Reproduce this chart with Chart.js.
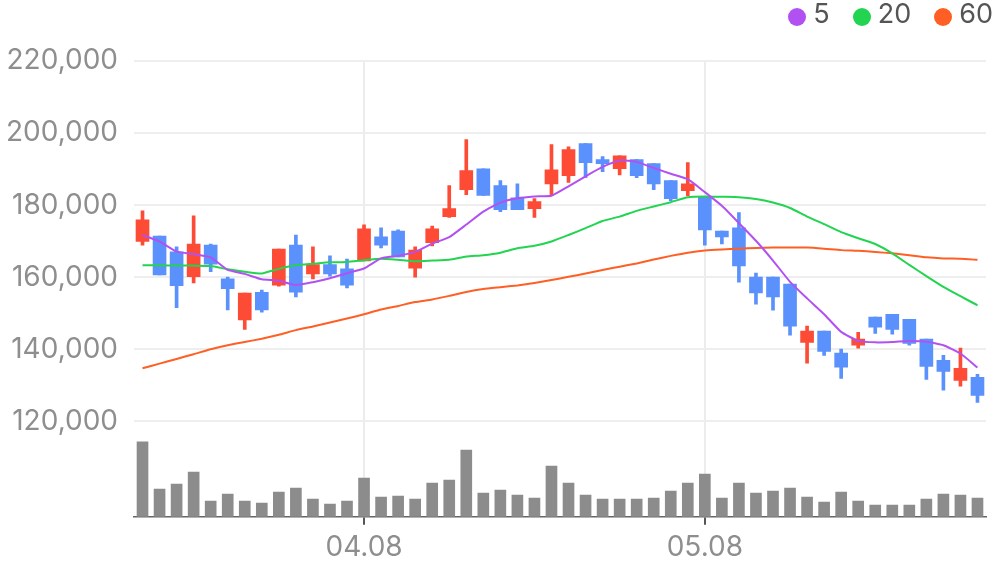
<!DOCTYPE html>
<html>
<head>
<meta charset="utf-8">
<title>Price chart</title>
<script src="https://cdn.jsdelivr.net/npm/chart.js@4.4.1/dist/chart.umd.min.js"></script>
<style>
    html, body {
        margin: 0;
        padding: 0;
        background: #ffffff;
    }

    #chart-wrapper {
        position: relative;
        width: 996px;
        height: 567px;
    }

    #ma-legend {
        position: absolute;
        top: 0;
        right: 3px;
        display: flex;
        font-family: "Inter", sans-serif;
        font-size: 27px;
        line-height: 28px;
        color: #555555;
    }

    .legend-item {
        display: flex;
        align-items: center;
        margin-left: 23px;
    }

    .legend-dot {
        width: 18px;
        height: 18px;
        border-radius: 50%;
        margin: 5px 7px 0 0;
    }
</style>
</head>
<body>
<div id="chart-wrapper">
    <canvas id="price-chart"></canvas>
    <div id="ma-legend"></div>
</div>
<script>
"use strict";

// trading days
const dates = [
    "03.20", "03.21", "03.22", "03.25", "03.26", "03.27", "03.28", "03.29", "04.01", "04.02",
    "04.03", "04.04", "04.05", "04.08", "04.09", "04.10", "04.11", "04.12", "04.15", "04.16",
    "04.17", "04.18", "04.19", "04.22", "04.23", "04.24", "04.25", "04.26", "04.29", "04.30",
    "05.02", "05.03", "05.07", "05.08", "05.09", "05.10", "05.13", "05.14", "05.16", "05.17",
    "05.20", "05.21", "05.22", "05.23", "05.24", "05.27", "05.28", "05.29", "05.30", "05.31"
];
const shownDates = ["04.08", "05.08"];

const opens = [
    169900, 171400, 167000, 160100, 168900, 159500, 148100, 155800, 157800, 168900,
    160900, 163500, 162300, 164500, 171200, 172800, 162500, 169600, 176800, 184300,
    190100, 185400, 182000, 179000, 185900, 188200, 197100, 192600, 190100, 192600,
    191500, 186800, 184000, 182300, 172800, 173700, 160000, 160000, 158100, 141900,
    145000, 138900, 141100, 148900, 149700, 148300, 142800, 136900, 131300, 132200
];
const highs = [
    178400, 171400, 168400, 177000, 169200, 160000, 155600, 156400, 167800, 171700,
    168400, 165900, 165000, 174500, 173700, 173100, 168400, 174200, 185400, 198200,
    190100, 186800, 185900, 181800, 196800, 196200, 197100, 193500, 193700, 192600,
    191500, 186800, 191800, 182300, 172800, 177900, 161100, 160000, 158100, 146400,
    145000, 140000, 144700, 148900, 149700, 148300, 142800, 138300, 140300, 133000
];
const lows = [
    168900, 160600, 151500, 158400, 161500, 150900, 145500, 150300, 157500, 154500,
    159500, 160300, 157000, 164500, 168100, 165600, 160000, 168700, 176600, 182900,
    182700, 178200, 178700, 176600, 182600, 186300, 187600, 189300, 188400, 187600,
    184300, 181200, 182600, 168900, 169200, 158600, 152500, 150800, 143900, 136100,
    138300, 131900, 140300, 144400, 144200, 141100, 131600, 128600, 129700, 125200
];
const closes = [
    175900, 160600, 157600, 169200, 163600, 156800, 155600, 150900, 167800, 155800,
    163500, 160900, 157800, 173400, 168900, 165600, 167500, 173400, 179000, 189600,
    182700, 178700, 178700, 181000, 189800, 195400, 191800, 191500, 193700, 188200,
    185900, 181800, 185900, 173100, 171200, 163100, 155600, 154500, 146400, 145000,
    139400, 135000, 142800, 146100, 145500, 141600, 135200, 133800, 134700, 127200
];
const volumes = [
    1494000, 554000, 654000, 894000, 314000, 454000, 314000, 274000, 494000, 574000,
    354000, 254000, 314000, 774000, 394000, 414000, 354000, 674000, 734000, 1334000,
    474000, 534000, 434000, 374000, 1014000, 674000, 434000, 354000, 354000, 354000,
    374000, 514000, 674000, 854000, 374000, 674000, 474000, 514000, 574000, 394000,
    294000, 494000, 314000, 234000, 234000, 234000, 354000, 454000, 434000, 374000
];

const ma5 = [
    171700, 169900, 167100, 166400, 165500, 162000, 160900, 159400, 159000, 157800,
    158600, 159700, 161100, 162400, 165200, 165900, 167000, 169300, 171100, 174600,
    178200, 180700, 181900, 182400, 182600, 185200, 188000, 190600, 192400, 192000,
    190300, 188700, 187200, 183600, 179800, 175000, 170100, 164600, 158700, 154100,
    149700, 144800, 142300, 141900, 142000, 142300, 142100, 141100, 138800, 134900
];
const ma20 = [
    163300, 163300, 163200, 163200, 163100, 162200, 161500, 161000, 162300, 163300,
    163700, 164100, 164200, 164700, 165100, 164800, 164400, 164600, 164800, 165700,
    166100, 166800, 168000, 168700, 169900, 171700, 173600, 175600, 176800, 178400,
    179600, 180800, 182200, 182400, 182300, 182200, 181700, 180700, 179200, 176800,
    174700, 172500, 170800, 169200, 166600, 163400, 160300, 157300, 154700, 152200
];
const ma60 = [
    134700, 136000, 137300, 138600, 140000, 141100, 142000, 142900, 144000, 145300,
    146300, 147400, 148500, 149700, 151000, 152000, 153100, 153800, 154800, 155900,
    156700, 157200, 157700, 158400, 159200, 160100, 161000, 162000, 162900, 163800,
    164900, 165900, 166800, 167400, 167700, 167900, 168100, 168200, 168200, 168200,
    167900, 167500, 167300, 167000, 166600, 166100, 165500, 165200, 165100, 164800
];

const priceTicks = [120000, 140000, 160000, 180000, 200000, 220000];

const UP_COLOR = "#fd4b35";
const DOWN_COLOR = "#5b91fc";
const FONT = "Inter";

function candleColor(ctx) {
    const i = ctx.dataIndex;
    return closes[i] >= opens[i] ? UP_COLOR : DOWN_COLOR;
}

function isShown(index) {
    return shownDates.includes(dates[index]);
}

// legend drawn as html next to the canvas, only for moving averages
const htmlLegend = {
    id: "htmlLegend",
    afterUpdate(chart) {
        const box = document.getElementById("ma-legend");
        box.innerHTML = "";
        chart.data.datasets.forEach(ds => {
            if (ds.type !== "line") {
                return;
            }
            const item = document.createElement("div");
            item.className = "legend-item";
            item.innerHTML = `<span class="legend-dot" style="background:${ds.borderColor}"></span><span>${ds.label}</span>`;
            box.appendChild(item);
        });
    }
};

document.addEventListener("DOMContentLoaded", function () {
    const ctx = document.getElementById("price-chart").getContext("2d");

    new Chart(ctx, {
        type: "bar",
        data: {
            labels: dates,
            datasets: [
                {
                    type: "line",
                    label: "5",
                    data: ma5,
                    borderColor: "#b251f1",
                    borderWidth: 2,
                    pointRadius: 0,
                    tension: 0.15,
                    yAxisID: "y",
                    order: 0
                },
                {
                    type: "line",
                    label: "20",
                    data: ma20,
                    borderColor: "#22d450",
                    borderWidth: 2,
                    pointRadius: 0,
                    tension: 0.15,
                    yAxisID: "y",
                    order: 0
                },
                {
                    type: "line",
                    label: "60",
                    data: ma60,
                    borderColor: "#ff5f25",
                    borderWidth: 2,
                    pointRadius: 0,
                    tension: 0.15,
                    yAxisID: "y",
                    order: 0
                },
                {
                    label: "body",
                    data: opens.map((o, i) => [o, closes[i]]),
                    backgroundColor: candleColor,
                    barThickness: 13,
                    minBarLength: 3,
                    grouped: false,
                    borderSkipped: false,
                    yAxisID: "y",
                    order: 1
                },
                {
                    label: "wick",
                    data: lows.map((l, i) => [l, highs[i]]),
                    backgroundColor: candleColor,
                    barThickness: 3,
                    grouped: false,
                    borderSkipped: false,
                    yAxisID: "y",
                    order: 2
                },
                {
                    label: "volume",
                    data: volumes,
                    backgroundColor: "#8c8c8c",
                    barThickness: 11,
                    grouped: false,
                    yAxisID: "vol",
                    order: 3
                }
            ]
        },
        options: {
            responsive: true,
            maintainAspectRatio: false,
            animation: false,
            layout: {
                padding: {top: 61, right: 10, bottom: 0, left: 0}
            },
            plugins: {
                legend: {display: false},
                tooltip: {enabled: false}
            },
            scales: {
                x: {
                    offset: true,
                    afterFit: scale => { scale.height = 50.3; },
                    grid: {
                        offset: false,
                        lineWidth: 2,
                        tickLength: 8,
                        tickWidth: 2,
                        color: c => isShown(c.index) ? "#ececec" : "rgba(0,0,0,0)",
                        tickColor: c => isShown(c.index) ? "#555555" : "rgba(0,0,0,0)"
                    },
                    border: {display: true, color: "#666666", width: 1.5},
                    ticks: {
                        autoSkip: false,
                        maxRotation: 0,
                        padding: 6,
                        color: "#8e8e8e",
                        font: {family: FONT, size: 28},
                        callback: function (value, index) {
                            return isShown(index) ? dates[index] : "";
                        }
                    }
                },
                y: {
                    position: "left",
                    min: 93500,
                    max: 220000,
                    afterFit: scale => { scale.width = 134; },
                    afterBuildTicks: scale => {
                        scale.ticks = priceTicks.map(v => ({value: v}));
                    },
                    grid: {
                        color: "#eeeeee",
                        lineWidth: 2,
                        drawTicks: false
                    },
                    border: {display: false},
                    ticks: {
                        padding: 16,
                        color: "#8e8e8e",
                        font: {family: FONT, size: 28},
                        callback: v => v.toLocaleString("en-US")
                    }
                },
                vol: {
                    display: false,
                    min: 0,
                    max: 9108000
                }
            }
        },
        plugins: [htmlLegend]
    });
});
</script>
</body>
</html>
